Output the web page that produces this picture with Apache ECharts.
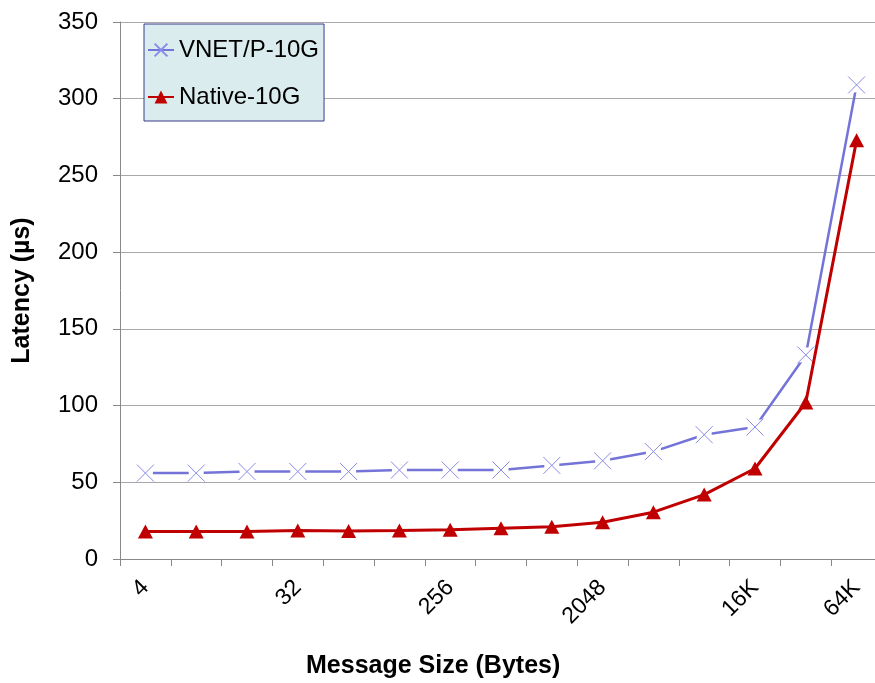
<!DOCTYPE html>
<html><head><meta charset="utf-8">
<script src="https://cdn.jsdelivr.net/npm/echarts@6/dist/echarts.min.js"></script>
<style>html,body{margin:0;padding:0;background:#fff;overflow:hidden;width:875px;height:683px}#c{width:900px;height:683px}</style>
</head><body><div id="c"></div>
<script>
const categories = ['4','8','16','32','64','128','256','512','1024','2048','4096','8192','16K','32K','64K'];
const shownLabels = [0,3,6,9,12,14];
const vnet = [56,56,57,57,57,58,58,58,61,64,70,81,86,133,309];
const native = [18,18,18,18.5,18.3,18.5,19,20,21,24,30.5,42,59,102,273];
const yTicks = {min:0, max:350, interval:50};

const FONT = '"Liberation Sans", Arial, sans-serif';
const chart = echarts.init(document.getElementById('c'), null, {renderer:'canvas'});
chart.setOption({
  animation:false,
  backgroundColor:'#fff',
  grid:{left:120, width:762, top:22, height:537, containLabel:false},
  legend:{
    data:['VNET/P-10G','Native-10G'],
    orient:'vertical', left:144, top:24,
    backgroundColor:'#daeced', borderColor:'#3b3b8f', borderWidth:1,
    padding:[14,5,12,3], itemGap:23, itemWidth:26, itemHeight:16,
    textStyle:{fontFamily:FONT, fontSize:24, color:'#000'}
  },
  xAxis:{
    type:'category', data:categories, boundaryGap:true,
    axisLine:{lineStyle:{color:'#888', width:1}},
    axisTick:{show:true, interval:0, length:7, lineStyle:{color:'#888'}},
    axisLabel:{rotate:45, margin:25, fontFamily:FONT, fontSize:23, color:'#000',
      interval:(i)=>shownLabels.includes(i)},
    splitLine:{show:false}
  },
  yAxis:{
    type:'value', min:yTicks.min, max:yTicks.max, interval:yTicks.interval,
    name:'Latency (µs)', nameLocation:'middle', nameGap:85,
    nameTextStyle:{fontFamily:FONT, fontSize:25, fontWeight:'bold', color:'#000'},
    axisLine:{show:true, lineStyle:{color:'#888'}},
    axisTick:{show:true, length:7, inside:false, lineStyle:{color:'#888'}},
    axisLabel:{margin:22, fontFamily:FONT, fontSize:24, color:'#000'},
    splitLine:{lineStyle:{color:'#a8a8a8', width:1}}
  },
  graphic:[{type:'text', x:306, y:666,
    style:{text:'Message Size (Bytes)', font:'bold 25px "Liberation Sans", Arial, sans-serif', fill:'#000', verticalAlign:'middle'}}],
  series:[
    {name:'VNET/P-10G', type:'line', data:vnet, z:2,
      lineStyle:{color:'#7474d8', width:2.5},
      itemStyle:{color:'#ffffff', borderColor:'#8a8ae8', borderWidth:1},
      symbol:'path://M0,0L20,20M20,0L0,20', symbolSize:17, showSymbol:false, emphasis:{disabled:true}},
    {name:'_mask', type:'line', data:vnet, z:3,
      lineStyle:{width:0, opacity:0}, symbol:'rect', symbolSize:15,
      itemStyle:{color:'#ffffff', borderWidth:0}, emphasis:{disabled:true}, silent:true},
    {name:'_x', type:'line', data:vnet, z:4,
      lineStyle:{width:0, opacity:0}, symbol:'path://M0,0L20,20M20,0L0,20', symbolSize:17,
      itemStyle:{color:'none', borderColor:'#8a8ae8', borderWidth:1}, emphasis:{disabled:true}, silent:true},
    {name:'Native-10G', type:'line', data:native, z:5,
      lineStyle:{color:'#c00000', width:3},
      itemStyle:{color:'#c00000'},
      symbol:'triangle', symbolSize:[15,14], emphasis:{disabled:true}}
  ]
});
</script></body></html>
